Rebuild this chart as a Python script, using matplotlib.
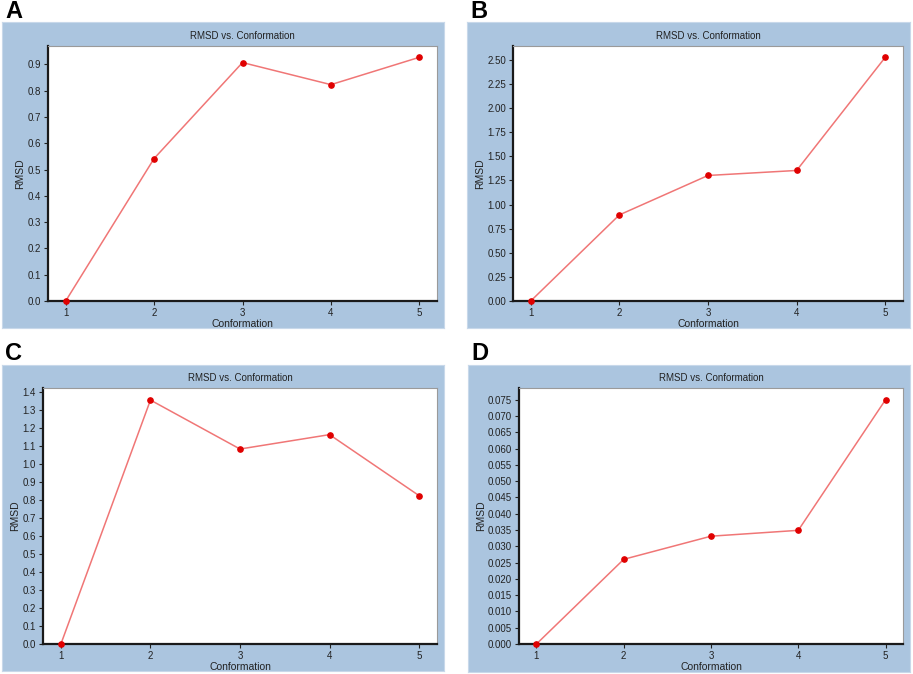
import matplotlib

matplotlib.use("Agg")
import matplotlib.pyplot as plt
from matplotlib.ticker import FixedLocator, FormatStrFormatter

plt.rcParams["font.family"] = ["Liberation Sans", "DejaVu Sans"]

conformation = [1, 2, 3, 4, 5]
rmsd_a = [0.0, 0.542, 0.907, 0.823, 0.927]
rmsd_b = [0.0, 0.893, 1.302, 1.354, 2.528]
rmsd_c = [0.0, 1.355, 1.083, 1.163, 0.824]
rmsd_d = [0.0, 0.026, 0.0331, 0.0349, 0.075]

yticks_a = [0.0, 0.1, 0.2, 0.3, 0.4, 0.5, 0.6, 0.7, 0.8, 0.9]
yticks_b = [0.0, 0.25, 0.5, 0.75, 1.0, 1.25, 1.5, 1.75, 2.0, 2.25, 2.5]
yticks_c = [0.0, 0.1, 0.2, 0.3, 0.4, 0.5, 0.6, 0.7, 0.8, 0.9, 1.0, 1.1, 1.2, 1.3, 1.4]
yticks_d = [0.0, 0.005, 0.01, 0.015, 0.02, 0.025, 0.03, 0.035, 0.04, 0.045,
            0.05, 0.055, 0.06, 0.065, 0.07, 0.075]

W, H = 913, 674
BLUE = "#abc5df"
LINE = "#f07676"
DOT = "#e00000"

# (letter, data, ticks, fmt, ytop, blue box px, plot box px)
panels = [
    ("A", rmsd_a, yticks_a, "%.1f", 0.97, (2, 22, 444, 328), (48, 46, 437, 301)),
    ("B", rmsd_b, yticks_b, "%.2f", 2.645, (467, 22, 910, 328), (513, 46, 903, 301)),
    ("C", rmsd_c, yticks_c, "%.1f", 1.422, (2, 365, 444, 671), (43, 388, 437, 644)),
    ("D", rmsd_d, yticks_d, "%.3f", 0.0786, (468, 365, 910, 672), (519, 388, 903, 644)),
]


def fig_rect(x0, y0, x1, y1):
    return [x0 / W, 1 - y1 / H, (x1 - x0) / W, (y1 - y0) / H]


fig = plt.figure(figsize=(W / 100, H / 100), dpi=100)

for letter, vals, ticks, fmt, ytop, blue, box in panels:
    bx0, by0, bx1, by1 = blue
    bg = fig.add_axes(fig_rect(*blue), zorder=-1)
    bg.set_facecolor(BLUE)
    bg.set_xticks([])
    bg.set_yticks([])
    for sp in bg.spines.values():
        sp.set_color("#c8d8ea")
        sp.set_linewidth(0.8)
    fig.text((bx0 + 3) / W, 1 - (by0 - 11) / H, letter, fontsize=17, fontweight="bold",
             ha="left", va="center")

    ax = fig.add_axes(fig_rect(*box))
    ax.set_facecolor("white")
    ax.plot(conformation, vals, "-", color=LINE, linewidth=1.1, zorder=2)
    ax.plot(conformation, vals, "o", color=DOT, markersize=3.8, zorder=3, clip_on=False)
    ax.set_xlim(0.8, 5.2)
    ax.set_ylim(0, ytop)
    ax.xaxis.set_major_locator(FixedLocator(conformation))
    ax.yaxis.set_major_locator(FixedLocator(ticks))
    ax.yaxis.set_major_formatter(FormatStrFormatter(fmt))
    ax.tick_params(labelsize=7, length=3, width=0.8, pad=2, colors="#222222")
    for side in ("left", "bottom"):
        ax.spines[side].set_color("#1a1a1a")
        ax.spines[side].set_linewidth(1.6)
    for side in ("top", "right"):
        ax.spines[side].set_color("#9a9a9a")
        ax.spines[side].set_linewidth(0.8)
    ax.set_title("RMSD vs. Conformation", fontsize=7, pad=5, color="#222222")
    ax.set_xlabel("Conformation", fontsize=7.5, labelpad=1, color="#222222")
    ax.set_ylabel("RMSD", fontsize=7.5, labelpad=1.5, color="#222222")

fig.savefig("out.png", dpi=100)
